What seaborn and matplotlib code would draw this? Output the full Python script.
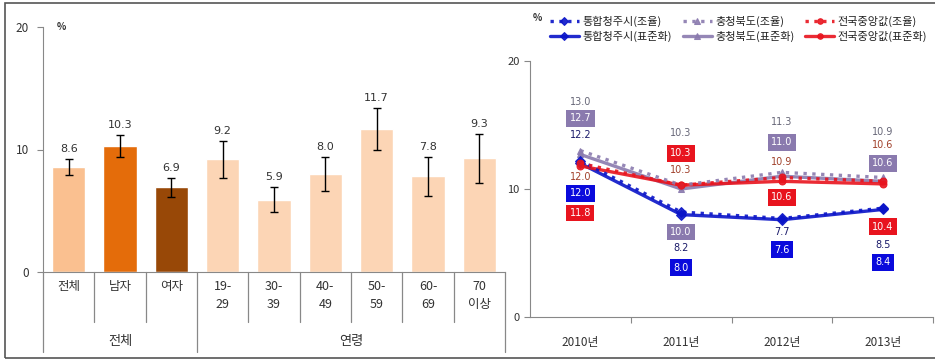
import matplotlib
matplotlib.use('Agg')
import matplotlib.pyplot as plt
import seaborn as sns
from matplotlib.patches import Rectangle

sns.set_style('white')
plt.rcParams['font.family'] = ['Noto Sans CJK KR', 'DejaVu Sans']

# ---- left chart data ----
bar_labels = ['전체', '남자', '여자', '19-\n29', '30-\n39', '40-\n49', '50-\n59', '60-\n69', '70\n이상']
bar_values = [8.6, 10.3, 6.9, 9.2, 5.9, 8.0, 11.7, 7.8, 9.3]
ci_low = [7.9, 9.4, 6.1, 7.7, 4.9, 6.6, 10.0, 6.2, 7.3]
ci_high = [9.2, 11.2, 7.7, 10.7, 6.9, 9.4, 13.4, 9.4, 11.3]
bar_colors = ['#FAC090', '#E46C0A', '#984807'] + ['#FCD5B5'] * 6
groups = ['전체', '연령']
group_sizes = [3, 6]

# ---- right chart data ----
years = ['2010년', '2011년', '2012년', '2013년']
cj_crude = [12.2, 8.2, 7.7, 8.5]
cb_crude = [13.0, 10.3, 11.3, 10.9]
nat_crude = [12.0, 10.3, 10.9, 10.6]
cj_std = [12.0, 8.0, 7.6, 8.4]
cb_std = [12.7, 10.0, 11.0, 10.6]
nat_std = [11.8, 10.3, 10.6, 10.4]

blue = '#0A14C8'
purple = '#8A7AAE'
red = '#E8141E'

fig = plt.figure(figsize=(9.35, 3.61), dpi=100)
fig.patches.append(Rectangle((5 / 935, 3 / 361), 1.2, 355 / 361, transform=fig.transFigure,
                             fill=False, edgecolor='#555555', linewidth=1.2))

# ================= left bar chart =================
ax1 = fig.add_axes([43 / 935, 89 / 361, 462 / 935, 245 / 361])
x = list(range(len(bar_values)))
sns.barplot(x=x, y=bar_values, hue=x, palette=bar_colors, legend=False, saturation=1,
            width=0.65, ax=ax1, native_scale=True)
yerr = [[v - lo for v, lo in zip(bar_values, ci_low)],
        [hi - v for v, hi in zip(bar_values, ci_high)]]
ax1.errorbar(x, bar_values, yerr=yerr, fmt='none', ecolor='black', elinewidth=1,
             capsize=3, capthick=1)
for xi, v, hi in zip(x, bar_values, ci_high):
    ax1.annotate(f'{v:.1f}', (xi, hi), xytext=(0, 5), textcoords='offset pixels',
                 ha='center', va='bottom', fontsize=8, color='#333333', family='DejaVu Sans')
ax1.set_xlim(-0.5, len(bar_values) - 0.5)
ax1.set_ylim(0, 20)
ax1.set_yticks([0, 10, 20])
ax1.set_xticks(x)
ax1.set_xticklabels(bar_labels, fontsize=9, color='#333333', linespacing=1.5)
ax1.tick_params(axis='x', length=0, pad=6)
ax1.tick_params(axis='y', length=4, direction='out', left=True, labelsize=8.5,
                labelcolor='#333333', color='#888888', pad=6)
for s in ['top', 'right']:
    ax1.spines[s].set_visible(False)
ax1.spines['left'].set_color('#888888')
ax1.spines['bottom'].set_color('#888888')
ax1.text(0.03, 1.0, '%', transform=ax1.transAxes, fontsize=7, ha='left', va='center',
         fontweight='bold', color='#333333')

# category separators below the axis
tr = ax1.get_xaxis_transform()
short_len = 50 / 245
long_len = 80 / 245
bounds = [i + 0.5 for i in range(len(bar_values) - 1)]
group_edges = [sum(group_sizes[:i + 1]) - 0.5 for i in range(len(group_sizes))]
for b in bounds:
    ln = long_len if b in group_edges else short_len
    ax1.plot([b, b], [0, -ln], transform=tr, color='#888888', lw=0.9, clip_on=False)
ax1.plot([-0.5, -0.5], [0, -long_len], transform=tr, color='#888888', lw=0.9, clip_on=False)
ax1.plot([8.5, 8.5], [0, -long_len], transform=tr, color='#888888', lw=0.9, clip_on=False)
start = -0.5
for g, n in zip(groups, group_sizes):
    ax1.text(start + n / 2, -70 / 245, g, transform=tr, ha='center', va='center',
             fontsize=9.5, color='#333333')
    start += n

# ================= right line chart =================
ax2 = fig.add_axes([530 / 935, 44 / 361, 403 / 935, 256 / 361])
xi = list(range(len(years)))
series = [
    (cj_std, blue, 'D', '-', '통합청주시(표준화)'),
    (cb_std, purple, '^', '-', '충청북도(표준화)'),
    (nat_std, red, 'o', '-', '전국중앙값(표준화)'),
    (cj_crude, blue, 'D', ':', '통합청주시(조율)'),
    (cb_crude, purple, '^', ':', '충청북도(조율)'),
    (nat_crude, red, 'o', ':', '전국중앙값(조율)'),
]
handles = {}
for vals, col, mk, ls, name in series:
    sns.lineplot(x=xi, y=vals, ax=ax2, color=col, marker=mk, linestyle=ls, lw=2.4,
                 markersize=5, markeredgecolor=col, alpha=0.9)
    handles[name] = ax2.lines[-1]

ax2.set_xlim(-0.5, 3.5)
ax2.set_ylim(0, 20)
ax2.set_yticks([0, 10, 20])
ax2.set_xticks([0.5, 1.5, 2.5, 3.5], minor=False)
ax2.set_xticklabels([])
ax2.set_xticks(xi, minor=True)
ax2.set_xticklabels(years, minor=True, fontsize=8.5, color='#333333')
ax2.tick_params(axis='x', which='major', length=4, direction='out', bottom=True, color='#888888')
ax2.tick_params(axis='x', which='minor', length=0, pad=14)
ax2.tick_params(axis='y', length=4, direction='out', left=True, labelsize=8,
                labelcolor='#333333', color='#888888')
for s in ['top', 'right']:
    ax2.spines[s].set_visible(False)
ax2.spines['left'].set_color('#888888')
ax2.spines['bottom'].set_color('#888888')
fig.text(533 / 935, 1 - 18 / 361, '%', fontsize=7, fontweight='bold', color='#333333',
         ha='left', va='center')

# label offsets in pixels (positive = below the point)
crude_off = {
    'cb': [-49, -52, -50, -45],
    'cj': [-26, 36, 14, 37],
    'nat': [14, -15, -15, -36],
}
std_off = {
    'cb': [-36, 43, -34, -18],
    'cj': [30, 53, 30, 53],
    'nat': [47, -32, 16, 43],
}
for vals, off, col in [(cb_crude, crude_off['cb'], '#666677'),
                       (cj_crude, crude_off['cj'], '#1A1A6A'),
                       (nat_crude, crude_off['nat'], '#A0402A')]:
    for i, v in enumerate(vals):
        ax2.annotate(f'{v:.1f}', (i, v), xytext=(0, -off[i]), textcoords='offset pixels',
                     ha='center', va='center', fontsize=7, color=col, family='DejaVu Sans')
for vals, off, col in [(cb_std, std_off['cb'], purple),
                       (cj_std, std_off['cj'], '#0A0ADC'),
                       (nat_std, std_off['nat'], red)]:
    for i, v in enumerate(vals):
        ax2.annotate(f'{v:.1f}', (i, v), xytext=(0, -off[i]), textcoords='offset pixels',
                     ha='center', va='center', fontsize=7, color='white', family='DejaVu Sans',
                     bbox=dict(boxstyle='square,pad=0.35', fc=col, ec='none'))

order = ['통합청주시(조율)', '통합청주시(표준화)', '충청북도(조율)', '충청북도(표준화)',
         '전국중앙값(조율)', '전국중앙값(표준화)']
fig.legend([handles[k] for k in order], order, ncol=3, loc='upper left',
           bbox_to_anchor=(540 / 935, 1 - 6 / 361), frameon=False, fontsize=8,
           handlelength=2.6, columnspacing=1.0, handletextpad=0.3, labelspacing=0.35,
           markerscale=0.8, labelcolor='#222222')

fig.savefig('out.png', dpi=100, facecolor='white')
